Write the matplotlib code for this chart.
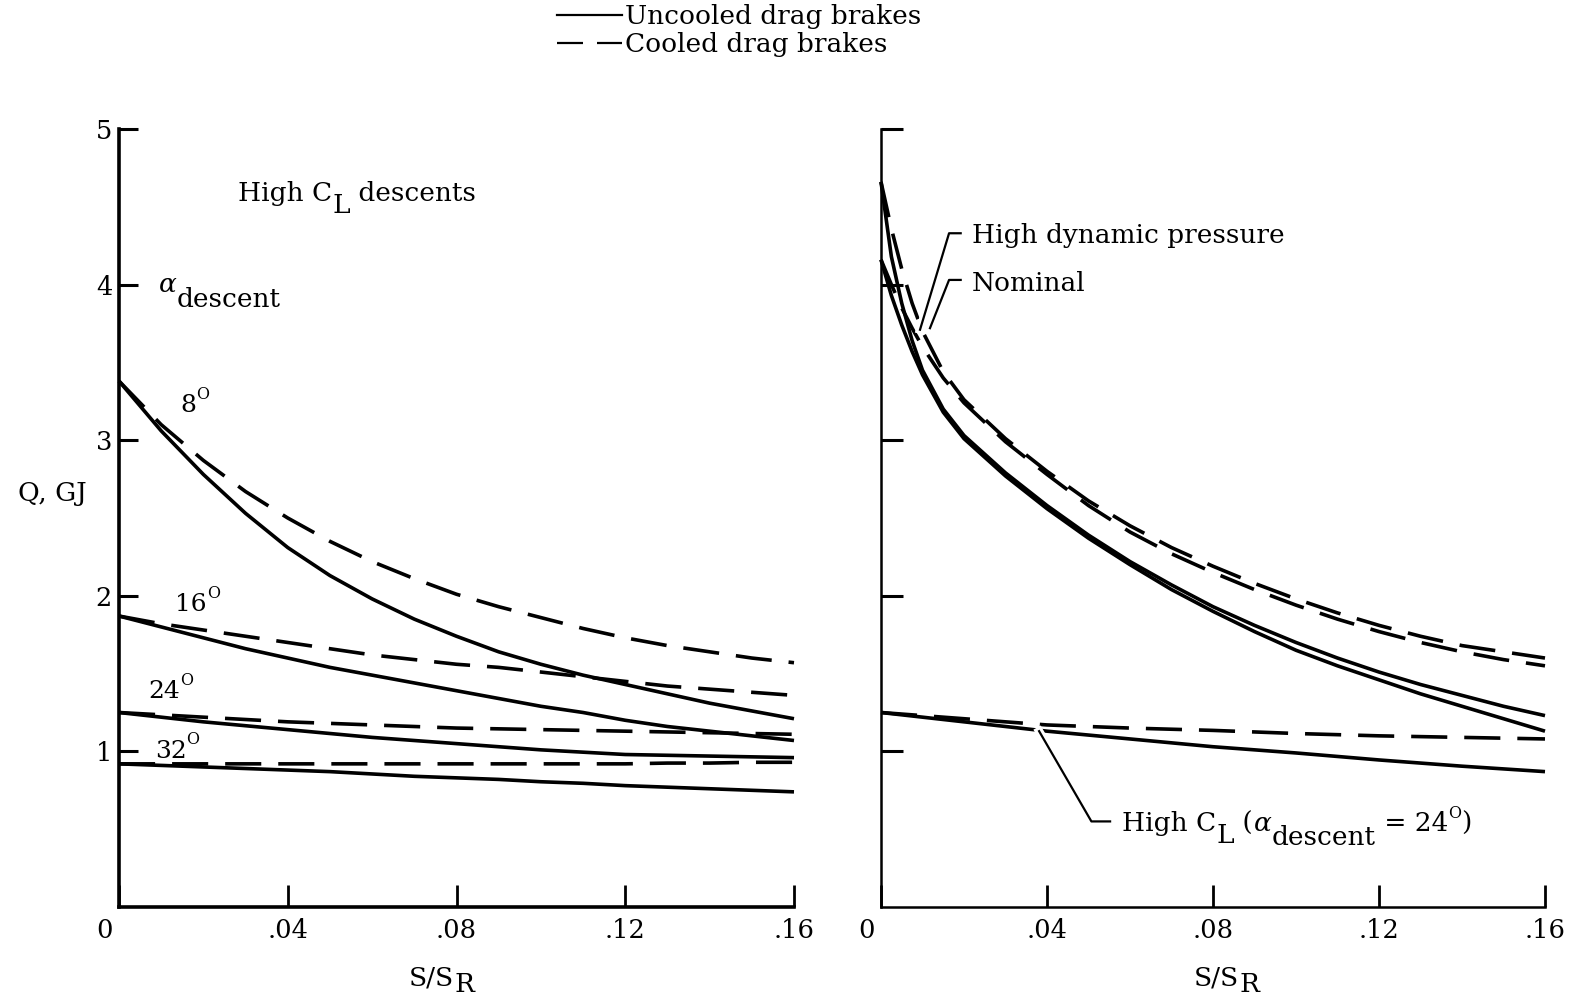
import matplotlib
matplotlib.use('Agg')
import matplotlib.pyplot as plt
import matplotlib.patheffects as pe
from matplotlib.lines import Line2D
from matplotlib.transforms import ScaledTranslation

plt.rcParams['font.family'] = ['DejaVu Serif']
plt.rcParams['mathtext.fontset'] = 'dejavuserif'
plt.rcParams['font.size'] = 19

# ---- left panel: high C_L descents, Q (GJ) vs S/S_R ----
s_left = [0.00, 0.01, 0.02, 0.03, 0.04, 0.05, 0.06, 0.07, 0.08,
          0.09, 0.10, 0.11, 0.12, 0.13, 0.14, 0.15, 0.16]
q8_unc = [3.38, 3.06, 2.78, 2.53, 2.31, 2.13, 1.98, 1.85, 1.74,
          1.64, 1.56, 1.49, 1.43, 1.37, 1.31, 1.26, 1.21]
q8_cool = [3.38, 3.10, 2.87, 2.67, 2.50, 2.35, 2.22, 2.11, 2.01,
           1.93, 1.86, 1.79, 1.73, 1.68, 1.64, 1.60, 1.57]
q16_unc = [1.87, 1.80, 1.73, 1.66, 1.60, 1.54, 1.49, 1.44, 1.39,
           1.34, 1.29, 1.25, 1.20, 1.16, 1.13, 1.10, 1.07]
q16_cool = [1.87, 1.82, 1.78, 1.74, 1.70, 1.66, 1.62, 1.59, 1.56,
            1.54, 1.51, 1.48, 1.45, 1.42, 1.40, 1.38, 1.36]
q24_unc = [1.25, 1.22, 1.19, 1.165, 1.14, 1.115, 1.09, 1.07, 1.05,
           1.03, 1.01, 0.995, 0.98, 0.975, 0.97, 0.965, 0.96]
q24_cool = [1.25, 1.235, 1.22, 1.205, 1.19, 1.18, 1.17, 1.16, 1.15,
            1.145, 1.14, 1.135, 1.13, 1.125, 1.12, 1.115, 1.11]
q32_unc = [0.92, 0.91, 0.90, 0.89, 0.88, 0.87, 0.855, 0.84, 0.83,
           0.82, 0.805, 0.795, 0.78, 0.77, 0.76, 0.75, 0.74]
q32_cool = [0.92, 0.92, 0.92, 0.92, 0.92, 0.92, 0.92, 0.92, 0.92,
            0.92, 0.92, 0.92, 0.92, 0.925, 0.925, 0.93, 0.93]
alpha_labels = ['8', '16', '24', '32']

# ---- right panel: trajectories ----
s_right = [0.0, 0.0025, 0.005, 0.0075, 0.01, 0.015, 0.02, 0.03, 0.04, 0.05, 0.06,
           0.07, 0.08, 0.09, 0.10, 0.11, 0.12, 0.13, 0.14, 0.15, 0.16]
qhd_unc = [4.66, 4.18, 3.88, 3.64, 3.45, 3.20, 3.03, 2.79, 2.58, 2.39, 2.22,
           2.07, 1.93, 1.81, 1.70, 1.60, 1.51, 1.43, 1.36, 1.29, 1.23]
qnom_unc = [4.16, 3.93, 3.74, 3.57, 3.42, 3.18, 3.01, 2.77, 2.56, 2.37, 2.20,
            2.04, 1.90, 1.77, 1.65, 1.55, 1.46, 1.37, 1.29, 1.21, 1.13]
qhd_cool = [4.66, 4.36, 4.10, 3.88, 3.70, 3.44, 3.26, 3.01, 2.80, 2.61, 2.45,
            2.31, 2.19, 2.08, 1.98, 1.89, 1.81, 1.74, 1.68, 1.64, 1.60]
qnom_cool = [4.16, 4.00, 3.85, 3.72, 3.60, 3.40, 3.24, 2.99, 2.78, 2.58, 2.41,
             2.27, 2.15, 2.04, 1.94, 1.85, 1.77, 1.70, 1.64, 1.59, 1.55]
s_hcl = [0.00, 0.02, 0.04, 0.06, 0.08, 0.10, 0.12, 0.14, 0.16]
qhcl_unc = [1.25, 1.19, 1.13, 1.08, 1.03, 0.99, 0.945, 0.905, 0.87]
qhcl_cool = [1.25, 1.21, 1.17, 1.15, 1.135, 1.115, 1.10, 1.09, 1.08]

xticks = [0, 0.04, 0.08, 0.12, 0.16]
xticklabels = ['0', '.04', '.08', '.12', '.16']
yticks = [1, 2, 3, 4, 5]

FS = 19
LW = 2.6
DASH = (10, 4.7)

fig = plt.figure(figsize=(15.82, 10.07), dpi=100)
axl = fig.add_axes([119/1582, 1 - 907/1007, 675/1582, 778/1007])
axr = fig.add_axes([881/1582, 1 - 907/1007, 664/1582, 778/1007])


def solid(ax, x, y):
    ax.plot(x, y, color='black', lw=LW, clip_on=False, solid_capstyle='butt')


def dashed(ax, x, y):
    ax.plot(x, y, color='black', lw=LW, dashes=DASH, clip_on=False, dash_capstyle='butt')


def leader(ax, xs, ys):
    ax.plot(xs, ys, color='black', lw=1.6, zorder=5, clip_on=False,
            path_effects=[pe.Stroke(linewidth=6, foreground='white'), pe.Normal()])


def chain(ax, x, y, pieces, coords='data'):
    # pieces: (text, vertical offset in points, fontsize); sub/superscripts
    # are set as full lines of text shifted up or down, as in the original
    tr = ax.transData if coords == 'data' else ax.transAxes
    prev = ax.text(x, y, pieces[0][0], fontsize=pieces[0][2], ha='left',
                   va='baseline', transform=tr)
    for s, dy, fs in pieces[1:]:
        prev = ax.annotate(s, xy=(1, y), xycoords=(prev, coords),
                           xytext=(0, dy), textcoords='offset points',
                           fontsize=fs, ha='left', va='baseline')


def style_axes(ax, spine_w, ylen):
    ax.set_xlim(0, 0.16)
    ax.set_ylim(0, 5)
    for side in ['top', 'right']:
        ax.spines[side].set_visible(False)
    for side in ['left', 'bottom']:
        ax.spines[side].set_linewidth(spine_w)
    ax.set_xticks(xticks)
    ax.set_xticklabels(xticklabels)
    ax.set_yticks(yticks)
    ax.tick_params(axis='y', direction='in', length=ylen, width=2.2, pad=5,
                   labelsize=18.5)
    ax.tick_params(axis='x', direction='in', length=16, width=2, pad=8,
                   labelsize=18.5)
    # the "0" sits left of the corner
    lab0 = ax.get_xticklabels()[0]
    lab0.set_horizontalalignment('right')
    lab0.set_transform(lab0.get_transform() + ScaledTranslation(-6/100, 0, fig.dpi_scale_trans))


# left panel curves
for qu, qc in [(q8_unc, q8_cool), (q16_unc, q16_cool), (q24_unc, q24_cool), (q32_unc, q32_cool)]:
    solid(axl, s_left, qu)
    dashed(axl, s_left, qc)

style_axes(axl, 2.6, 14)

chain(axl, 0.0283, 4.54, [('High C', 0, FS), ('L', -8.6, FS), (' descents', 0, FS)])
chain(axl, 0.0092, 3.95, [(r'$\alpha$', 0, FS), ('descent', -10.8, FS)])
alpha_pos = [(0.0145, 3.18), (0.0133, 1.90), (0.0069, 1.34), (0.0085, 0.96)]
for lab, (x, y) in zip(alpha_labels, alpha_pos):
    chain(axl, x, y, [(lab, 0, 18), ('O', 9.5, 11.5)])
chain(axl, 0.4296, -0.1003, [('S/S', 0, FS), ('R', -5, FS)], coords='axes fraction')

# right panel curves
solid(axr, s_right, qhd_unc)
solid(axr, s_right, qnom_unc)
dashed(axr, s_right, qhd_cool)
dashed(axr, s_right, qnom_cool)
solid(axr, s_hcl, qhcl_unc)
dashed(axr, s_hcl, qhcl_cool)

style_axes(axr, 1.8, 16)
axr.tick_params(axis='y', labelleft=False)

leader(axr, [0.0192, 0.0164, 0.0094], [4.33, 4.33, 3.71])
leader(axr, [0.0192, 0.0164, 0.0118], [4.03, 4.03, 3.72])
leader(axr, [0.0381, 0.0507, 0.0552], [1.13, 0.55, 0.55])
axr.text(0.0219, 4.27, 'High dynamic pressure', va='baseline', ha='left', fontsize=FS)
axr.text(0.0219, 3.96, 'Nominal', va='baseline', ha='left', fontsize=FS)
chain(axr, 0.0581, 0.49, [('High C', 0, FS), ('L', -9, FS), (' (', 0, FS),
                          (r'$\alpha$', 0, FS), ('descent', -10, FS),
                          (' = 24', 0, FS), ('O', 9.5, 11.5), (')', 0, FS)])
chain(axr, 0.4714, -0.1003, [('S/S', 0, FS), ('R', -5, FS)], coords='axes fraction')

fig.text(18/1582, 1 - 494/1007, 'Q, GJ', va='center', ha='left', fontsize=FS)

handles = [Line2D([], [], color='black', lw=1.6),
           Line2D([], [], color='black', lw=1.6, dashes=(11.7, 6.3))]
fig.legend(handles, ['Uncooled drag brakes', 'Cooled drag brakes'],
           loc='upper left', bbox_to_anchor=(557/1582, 1 - 4/1007), frameon=False,
           handlelength=2.46, handletextpad=0.12, labelspacing=0.12,
           borderpad=0.0, borderaxespad=0.0, fontsize=FS)

fig.savefig('out.png', dpi=100)
